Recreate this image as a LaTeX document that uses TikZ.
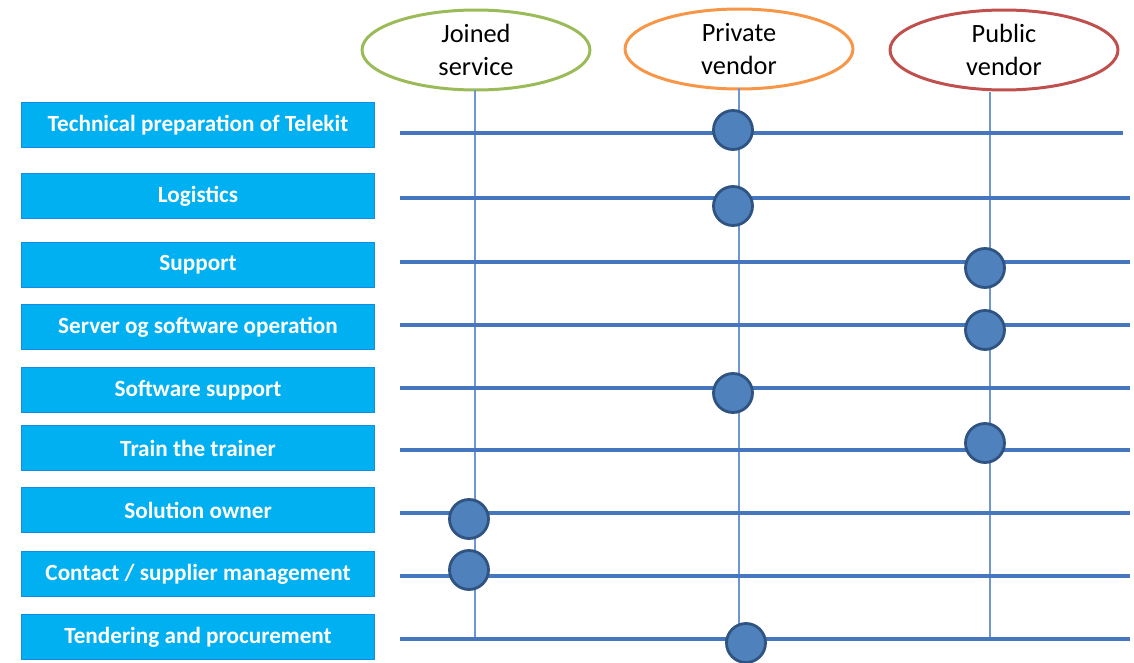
\documentclass[tikz,border=0pt]{standalone}
\usepackage{fontspec}
\newfontfamily\calibri{Carlito}
\usetikzlibrary{shapes.geometric}
\definecolor{TaskCyan}{RGB}{0,176,240}
\definecolor{TaskEdge}{RGB}{20,140,230}
\definecolor{LineBlue}{RGB}{70,118,190}
\definecolor{ThinBlue}{RGB}{110,150,210}
\definecolor{DotFill}{RGB}{79,129,189}
\definecolor{DotEdge}{RGB}{48,84,130}
\definecolor{JoinGreen}{RGB}{155,187,89}
\definecolor{PrivOrange}{RGB}{247,150,70}
\definecolor{PubRed}{RGB}{192,80,77}
\tikzset{
  task/.style={draw=TaskEdge,fill=TaskCyan,line width=0.6pt,minimum width=7.06cm,minimum height=0.9cm,inner sep=0pt,text=white,font=\calibri\bfseries\fontsize{13.2}{15}\selectfont},
  role/.style={ellipse,draw,line width=1.7pt,fill=white,minimum width=4.56cm,minimum height=1.6cm,inner sep=0pt,align=center,font=\calibri\fontsize{15}{18.7}\selectfont},
  rowline/.style={draw=LineBlue,line width=2.6pt},
  roleline/.style={draw=ThinBlue,line width=0.8pt},
  assigned/.style={circle,draw=DotEdge,fill=DotFill,line width=1.6pt,minimum size=0.78cm,inner sep=0pt}
}
\begin{document}
\begin{tikzpicture}[x=0.02cm,y=-0.02cm]
\useasboundingbox (0,0) rectangle (1134,663);
\node[role,draw=JoinGreen] (Joined) at (476,50) {Joined\\service};
\node[role,draw=PrivOrange] (Private) at (739,49) {Private\\vendor};
\node[role,draw=PubRed] (Public) at (1004,50) {Public\\vendor};

\coordinate (JT) at (475,90);
\coordinate (JB) at (475,638);
\coordinate (PT) at (739,88);
\coordinate (PB) at (739,638);
\coordinate (QT) at (990,92);
\coordinate (QB) at (990,638);

\draw[roleline](JT)--(JB);\draw[roleline](PT)--(PB);\draw[roleline](QT)--(QB);

\coordinate (L1) at (400,133);
\coordinate (R1) at (1123,133);
\coordinate (L2) at (400,198);
\coordinate (R2) at (1130,198);
\coordinate (L3) at (400,262);
\coordinate (R3) at (1130,262);
\coordinate (L4) at (400,325);
\coordinate (R4) at (1130,325);
\coordinate (L5) at (400,388);
\coordinate (R5) at (1130,388);
\coordinate (L6) at (400,450);
\coordinate (R6) at (1130,450);
\coordinate (L7) at (400,513);
\coordinate (R7) at (1130,513);
\coordinate (L8) at (400,576);
\coordinate (R8) at (1130,576);
\coordinate (L9) at (400,639);
\coordinate (R9) at (1130,639);

\draw[rowline](L1)--(R1);\draw[rowline](L2)--(R2);\draw[rowline](L3)--(R3);\draw[rowline](L4)--(R4);\draw[rowline](L5)--(R5);\draw[rowline](L6)--(R6);\draw[rowline](L7)--(R7);\draw[rowline](L8)--(R8);\draw[rowline](L9)--(R9);

\node[task] (T1) at (198,125) {Technical preparation of Telekit};
\node[task] (T2) at (198,196) {Logistics};
\node[task] (T3) at (198,265) {Support};
\node[task] (T4) at (198,327) {Server og software operation};
\node[task] (T5) at (198,390) {Software support};
\node[task] (T6) at (198,448) {Train the trainer};
\node[task] (T7) at (198,510) {Solution owner};
\node[task] (T8) at (198,574) {Contact / supplier management};
\node[task] (T9) at (198,637) {Tendering and procurement};

\node[assigned] (A1) at (733,130) {};
\node[assigned] (A2) at (733,206) {};
\node[assigned] (A3) at (985,268) {};
\node[assigned] (A4) at (985,330) {};
\node[assigned] (A5) at (733,393) {};
\node[assigned] (A6) at (985,443) {};
\node[assigned] (A7) at (469,519) {};
\node[assigned] (A8) at (469,570) {};
\node[assigned] (A9) at (746,643) {};
\end{tikzpicture}
\end{document}
